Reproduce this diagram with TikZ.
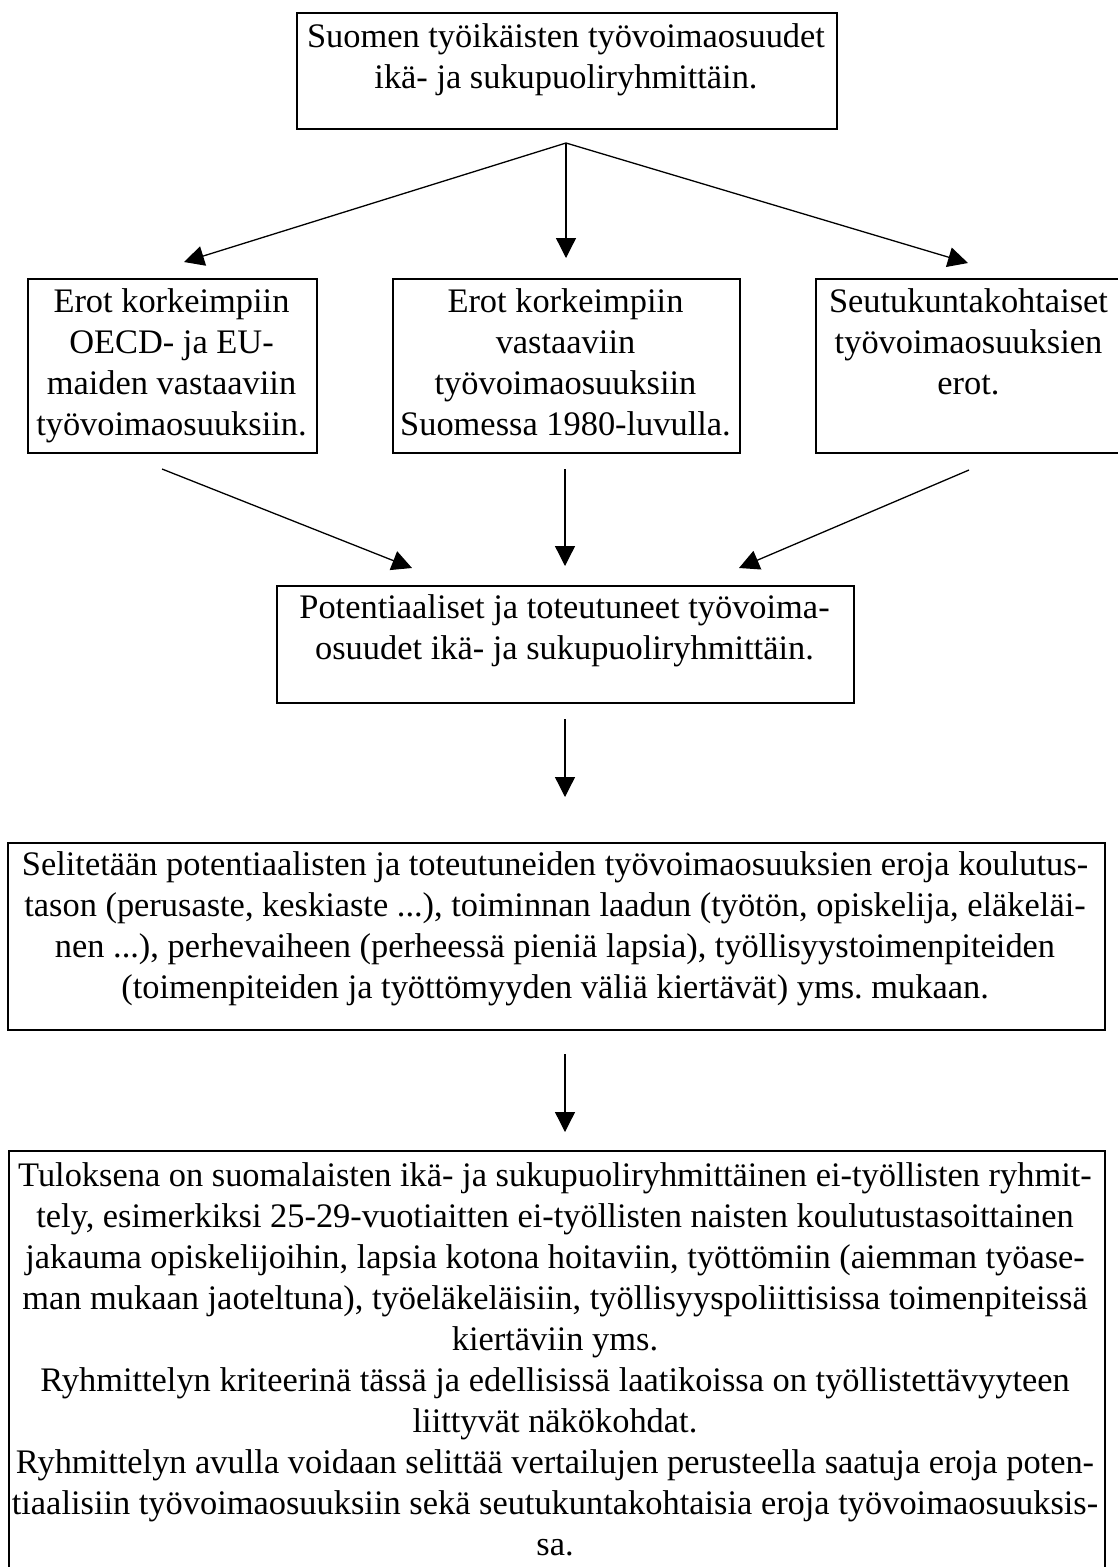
\documentclass[tikz,border=0pt]{standalone}
\usepackage{fontspec}
\setmainfont{Liberation Serif}
\usetikzlibrary{arrows.meta}
\frenchspacing
\tikzset{
  box/.style={draw=black, line width=1.8pt, fill=none, inner sep=0pt, anchor=north west},
  txt/.style={align=center, inner sep=0pt, anchor=north, font=\fontsize{34.4}{41}\selectfont\frenchspacing},
  arr/.style={line width=1.3pt, -{Triangle[length=20pt,width=20pt]}}
}
\begin{document}
\begin{tikzpicture}[x=1pt,y=-1pt]
\useasboundingbox (0,0) rectangle (1117,1567);
\fill[white] (0,0) rectangle (1117,1567);

% boxes
\node[box, minimum width=540pt, minimum height=116pt] (T) at (296,12) {};
\node[box, minimum width=289pt, minimum height=174pt] (L) at (27,278) {};
\node[box, minimum width=347pt, minimum height=174pt] (M) at (392,278) {};
\node[box, minimum width=307pt, minimum height=174pt] (R) at (815,278) {};
\node[box, minimum width=577pt, minimum height=117pt] (P) at (276,585) {};
\node[box, minimum width=1097pt, minimum height=187pt] (S) at (7,842) {};
\node[box, minimum width=1096pt, minimum height=430pt] (Q) at (8,1150) {};

% texts
\node[txt] (Tt) at (566,18.3) {\strut Suomen työikäisten työvoimaosuudet\\ ikä- ja sukupuoliryhmittäin.};
\node[txt] (Lt) at (171.5,283.3) {\strut Erot korkeimpiin\\ OECD- ja EU-\\ maiden vastaaviin\\ työvoimaosuuksiin.};
\node[txt] (Mt) at (565.5,283.3) {\strut Erot korkeimpiin\\ vastaaviin\\ työvoimaosuuksiin\\ Suomessa 1980-luvulla.};
\node[txt] (Rt) at (968.5,283.3) {\strut Seutukuntakohtaiset\\ työvoimaosuuksien\\ erot.};
\node[txt] (Pt) at (564.5,589.3) {\strut Potentiaaliset ja toteutuneet työvoima-\\ osuudet ikä- ja sukupuoliryhmittäin.};
\node[txt] (St) at (555,846.3) {\strut Selitetään potentiaalisten ja toteutuneiden työvoimaosuuksien eroja koulutus-\\ tason (perusaste, keskiaste ...), toiminnan laadun (työtön, opiskelija, eläkeläi-\\ nen ...), perhevaiheen (perheessä pieniä lapsia), työllisyystoimenpiteiden\\ (toimenpiteiden ja työttömyyden väliä kiertävät) yms. mukaan.};
\node[txt] (Qt) at (555,1157.3) {\strut Tuloksena on suomalaisten ikä- ja sukupuoliryhmittäinen ei-työllisten ryhmit-\\ tely, esimerkiksi 25-29-vuotiaitten ei-työllisten naisten koulutustasoittainen\\ jakauma opiskelijoihin, lapsia kotona hoitaviin, työttömiin (aiemman työase-\\ man mukaan jaoteltuna), työeläkeläisiin, työllisyyspoliittisissa toimenpiteissä\\ kiertäviin yms.\\ Ryhmittelyn kriteerinä tässä ja edellisissä laatikoissa on työllistettävyyteen\\ liittyvät näkökohdat.\\ Ryhmittelyn avulla voidaan selittää vertailujen perusteella saatuja eroja poten-\\ tiaalisiin työvoimaosuuksiin sekä seutukuntakohtaisia eroja työvoimaosuuksis-\\ sa.};

% connector end points
\coordinate (f) at (566,143);
\coordinate (aL) at (184,262);
\coordinate (aM) at (566,258);
\coordinate (aR) at (968,263);
\coordinate (bL1) at (162,469);
\coordinate (bL2) at (412,568);
\coordinate (bM1) at (565,469);
\coordinate (bM2) at (565,566);
\coordinate (bR1) at (969,470);
\coordinate (bR2) at (739,568);
\coordinate (c1) at (565,719);
\coordinate (c2) at (565,797);
\coordinate (d1) at (565,1054);
\coordinate (d2) at (565,1132);

% connectors
\draw[arr] (f) -- (aL);
\draw[arr] (f) -- (aM);
\draw[arr] (f) -- (aR);
\draw[arr] (bL1) -- (bL2);
\draw[arr] (bM1) -- (bM2);
\draw[arr] (bR1) -- (bR2);
\draw[arr] (c1) -- (c2);
\draw[arr] (d1) -- (d2);
\end{tikzpicture}
\end{document}
